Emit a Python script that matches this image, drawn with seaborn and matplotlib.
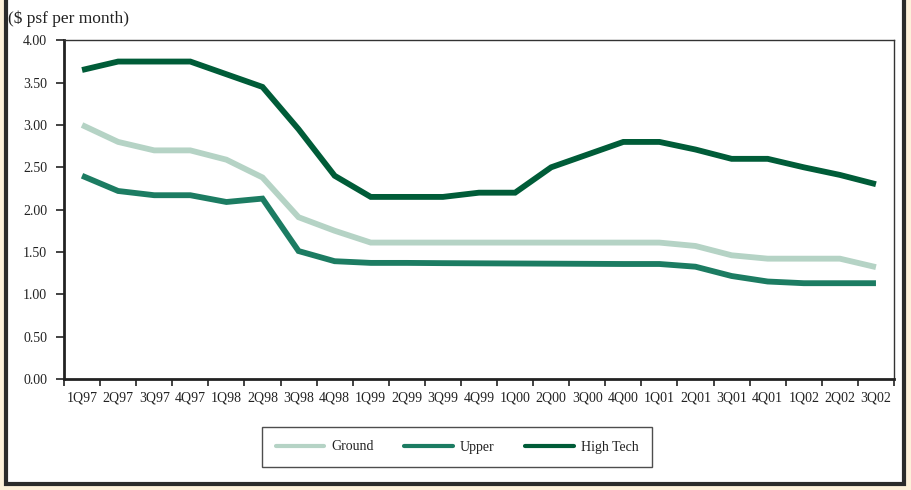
import matplotlib
matplotlib.use("Agg")
import matplotlib.pyplot as plt
from matplotlib.patches import Rectangle
from matplotlib.lines import Line2D
import seaborn as sns
import pandas as pd
import numpy as np

quarters = ["1Q97", "2Q97", "3Q97", "4Q97", "1Q98", "2Q98", "3Q98", "4Q98",
            "1Q99", "2Q99", "3Q99", "4Q99", "1Q00", "2Q00", "3Q00", "4Q00",
            "1Q01", "2Q01", "3Q01", "4Q01", "1Q02", "2Q02", "3Q02"]

ground = [3.00, 2.80, 2.70, 2.70, 2.59, 2.38, 1.91, 1.75,
          1.61, 1.61, 1.61, 1.61, 1.61, 1.61, 1.61, 1.61,
          1.61, 1.57, 1.46, 1.42, 1.42, 1.42, 1.32]

upper = [2.40, 2.22, 2.17, 2.17, 2.09, 2.13, 1.51, 1.39,
         1.37, 1.37, 1.367, 1.365, 1.363, 1.361, 1.359, 1.357,
         1.357, 1.325, 1.215, 1.15, 1.13, 1.13, 1.13]

high_tech = [3.65, 3.75, 3.75, 3.75, 3.60, 3.45, 2.95, 2.40,
             2.15, 2.15, 2.15, 2.20, 2.20, 2.50, 2.65, 2.80,
             2.80, 2.71, 2.60, 2.60, 2.50, 2.41, 2.30]

series_names = ["Ground", "Upper", "High Tech"]
series_colors = ["#b5d3c5", "#1c7c62", "#005c38"]
y_ticks = [0.0, 0.5, 1.0, 1.5, 2.0, 2.5, 3.0, 3.5, 4.0]

df = pd.DataFrame({
    "quarter": quarters * 3,
    "rent": ground + upper + high_tech,
    "type": sum([[n] * len(quarters) for n in series_names], []),
})

sns.set_theme(style="white")
plt.rcParams["font.family"] = ["Liberation Serif", "DejaVu Serif"]

fig = plt.figure(figsize=(9.11, 4.90), dpi=100)
fig.patch.set_facecolor("#fdf1da")

# white panel with dark frame, kept behind the axes
panel = Rectangle((6 / 911, 1 - 484 / 490), 898 / 911, 500 / 490,
                  transform=fig.transFigure, facecolor="white",
                  edgecolor="#2b2b2b", linewidth=3, zorder=-10)
fig.patches.append(panel)

ax = fig.add_axes([64 / 911, 1 - 378.8 / 490, 830 / 911, 338.4 / 490])
ax.set_zorder(5)
ax.set_facecolor("white")

pos = {q: i for i, q in enumerate(quarters)}
df["x"] = df["quarter"].map(pos)

sns.lineplot(data=df, x="x", y="rent", hue="type", hue_order=series_names,
             palette=series_colors, linewidth=4.2, ax=ax, legend=False,
             sort=False)
for ln in ax.lines:
    ln.set_solid_joinstyle("miter")
    ln.set_solid_capstyle("butt")

ax.set_xlim(-0.5, len(quarters) - 0.5)
ax.set_ylim(0, 4.0)
ax.set_yticks(y_ticks)
ax.set_yticklabels([f"{v:.2f}" for v in y_ticks], fontsize=10, color="#222222")
ax.set_xticks(range(len(quarters)))
ax.set_xticklabels(quarters, fontsize=10, color="#222222")
ax.set_xticks(np.arange(-0.5, len(quarters)), minor=True)
ax.tick_params(axis="x", which="major", length=0, pad=9)
ax.tick_params(axis="x", which="minor", length=5, width=1.2, color="#222222",
               direction="out", bottom=True)
ax.tick_params(axis="y", which="major", length=6, width=1.2, color="#222222",
               direction="out", pad=6, left=True)
ax.set_xlabel("")
ax.set_ylabel("")

for side in ["left", "bottom"]:
    ax.spines[side].set_color("#222222")
    ax.spines[side].set_linewidth(2)
for side in ["top", "right"]:
    ax.spines[side].set_color("#333333")
    ax.spines[side].set_linewidth(1)
    ax.spines[side].set_visible(True)

fig.text(8 / 911, 1 - 18.5 / 490, "($ psf per month)", fontsize=12.5,
         color="#222222", ha="left", va="center")

handles = [Line2D([0], [0], color=c, linewidth=3) for c in series_colors]
leg = fig.legend(handles, series_names, loc="center",
                 bbox_to_anchor=(457 / 911, 1 - 447 / 490), ncol=3,
                 frameon=True, fancybox=False, fontsize=10,
                 handlelength=3.5, handletextpad=0.5, columnspacing=2.2,
                 borderpad=1.0, borderaxespad=0)
leg.get_frame().set_edgecolor("#222222")
leg.get_frame().set_linewidth(1)
for t in leg.get_texts():
    t.set_color("#222222")

fig.savefig("out.png", dpi=100, facecolor=fig.get_facecolor())
